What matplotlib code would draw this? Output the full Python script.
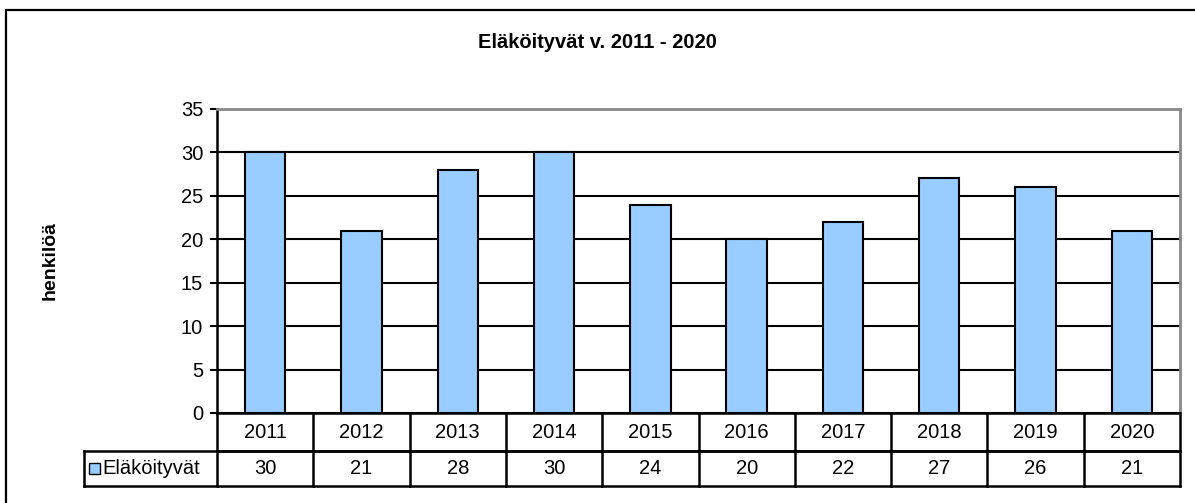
import matplotlib.pyplot as plt
from matplotlib.lines import Line2D
from matplotlib.patches import Rectangle

plt.rcParams['font.family'] = ['Liberation Sans', 'DejaVu Sans']

years = ['2011', '2012', '2013', '2014', '2015', '2016', '2017', '2018', '2019', '2020']
retirees = [30, 21, 28, 30, 24, 20, 22, 27, 26, 21]
series_name = 'Eläköityvät'
yticks = [0, 5, 10, 15, 20, 25, 30, 35]

W, H = 1195, 503
fig = plt.figure(figsize=(W / 100, H / 100), dpi=100)
# plot area in pixels: x 217..1180, y 109..413
ax = fig.add_axes([217 / W, 1 - 413 / H, (1180 - 217) / W, (413 - 109) / H])

x = list(range(len(years)))
ax.bar(x, retirees, width=0.42, color='#99CCFF', edgecolor='black', linewidth=1.5, zorder=3)

fs = 14.5
ax.set_xlim(-0.5, len(years) - 0.5)
ax.set_ylim(0, 35)
ax.set_yticks(yticks)
ax.set_yticklabels([str(t) for t in yticks], fontsize=fs)
ax.set_xticks([])
ax.tick_params(axis='y', length=5, width=1.5, direction='out', pad=5)
ax.yaxis.grid(True, color='black', linewidth=1.5, zorder=1)
ax.set_axisbelow(True)

ax.spines['left'].set_linewidth(1.8)
ax.spines['bottom'].set_linewidth(1.8)
for s in ['top', 'right']:
    ax.spines[s].set_color('#888888')
    ax.spines[s].set_linewidth(2)

# title is centred on the whole chart, not the plot area
fig.text(0.5, 1 - 43 / H, 'Eläköityvät v. 2011 - 2020', fontsize=14.5, fontweight='bold',
         ha='center', va='center')
ax.set_ylabel('henkilöä', fontsize=14, fontweight='bold', labelpad=88)

# data table under the axis
tr = ax.get_xaxis_transform()
px = 304.0  # axes height in pixels
r1 = -38 / px
r2 = -73 / px
xleft = -0.5 - (217 - 84) / 96.3
lw = 1.8
lines = [
    ([-0.5, len(years) - 0.5], [r1, r1]),
    ([xleft, len(years) - 0.5], [r1, r1]),
    ([xleft, len(years) - 0.5], [r2, r2]),
    ([xleft, xleft], [r1, r2]),
    ([-0.5, -0.5], [0, r2]),
]
for i in range(len(years)):
    lines.append(([i + 0.5, i + 0.5], [0, r2]))
for xs, ys in lines:
    ax.add_line(Line2D(xs, ys, transform=tr, color='black', linewidth=lw, clip_on=False))

for i, (yr, v) in enumerate(zip(years, retirees)):
    ax.text(i, r1 / 2, yr, transform=tr, ha='center', va='center', fontsize=fs)
    ax.text(i, (r1 + r2) / 2, str(v), transform=tr, ha='center', va='center', fontsize=fs)

# legend key in the table
ax.add_patch(Rectangle((xleft + 5 / 96.3, (r1 + r2) / 2 - 5.5 / px), 11 / 96.3, 11 / px, transform=tr,
                       facecolor='#99CCFF', edgecolor='black', linewidth=1, clip_on=False))
ax.text(xleft + 18 / 96.3, (r1 + r2) / 2, series_name, transform=tr, ha='left', va='center', fontsize=fs)

# outer chart border
fig.add_artist(Rectangle((6 / W, -0.2), 2, 0.2 + (H - 10) / H, transform=fig.transFigure,
                         fill=False, edgecolor='black', linewidth=1.6))

fig.savefig('out.png', dpi=100)
